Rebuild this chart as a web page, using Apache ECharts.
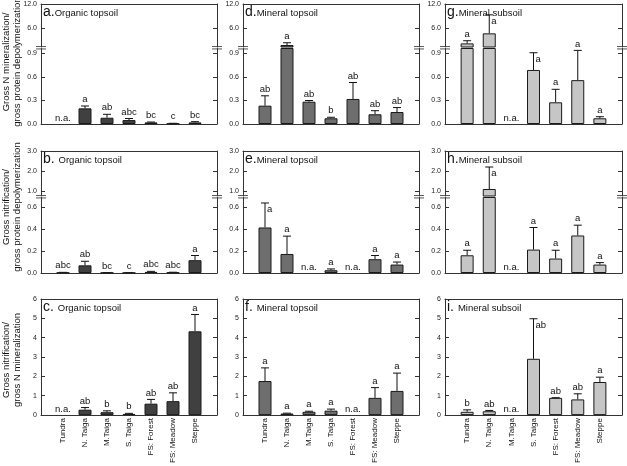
<!DOCTYPE html>
<html><head><meta charset="utf-8">
<script src="https://cdn.jsdelivr.net/npm/echarts@6/dist/echarts.min.js"></script>
<style>html,body{margin:0;padding:0;background:#fff}#c{width:627px;height:466px}</style>
</head><body><div id="c"></div>
<script>
// ---------- DATA ----------
const categories = ['Tundra', 'N. Taiga', 'M.Taiga', 'S. Taiga', 'FS: Forest', 'FS: Meadow', 'Steppe'];

// a. Organic topsoil  (gross N mineralization / gross protein depolymerization)
const aMean    = [null, 0.20, 0.08, 0.05, 0.02, 0.006, 0.02];
const aErr     = [null, 0.03, 0.044, 0.02, 0.005, 0.003, 0.01];
const aLetters = ['n.a.', 'a', 'ab', 'abc', 'bc', 'c', 'bc'];
// d. Mineral topsoil
const dMean    = [0.234, 1.79, 0.285, 0.073, 0.32, 0.124, 0.153];
const dErr     = [0.126, 0.57, 0.015, 0.013, 0.21, 0.046, 0.057];
const dLetters = ['ab', 'a', 'ab', 'b', 'ab', 'ab', 'ab'];
// g. Mineral subsoil
const gMean    = [2.2, 4.7, null, 0.69, 0.277, 0.56, 0.073];
const gErr     = [0.66, 4.6, null, 0.22, 0.166, 0.38, 0.02];
const gLetters = ['a', 'a', 'n.a.', 'a', 'a', 'a', 'a'];

// b. Organic topsoil (gross nitrification / gross protein depolymerization)
const bMean    = [0.004, 0.07, 0.003, 0.002, 0.01, 0.005, 0.117];
const bErr     = [0.002, 0.037, 0.001, 0.001, 0.005, 0.002, 0.043];
const bLetters = ['abc', 'ab', 'bc', 'c', 'abc', 'abc', 'a'];
// e. Mineral topsoil
const eMean    = [0.416, 0.174, null, 0.025, null, 0.126, 0.077];
const eErr     = [0.224, 0.163, null, 0.012, null, 0.034, 0.023];
const eLetters = ['a', 'a', 'n.a.', 'a', 'n.a.', 'a', 'a'];
// h. Mineral subsoil
const hMean    = [0.162, 1.1, null, 0.214, 0.132, 0.343, 0.077];
const hErr     = [0.046, 1.1, null, 0.202, 0.076, 0.094, 0.018];
const hLetters = ['a', 'a', 'n.a.', 'a', 'a', 'a', 'a'];

// c. Organic topsoil (gross nitrification / gross N mineralization)
const cMean    = [null, 0.28, 0.15, 0.06, 0.59, 0.72, 4.33];
const cErr     = [null, 0.11, 0.07, 0.03, 0.22, 0.43, 0.87];
const cLetters = ['n.a.', 'ab', 'b', 'b', 'ab', 'ab', 'a'];
// f. Mineral topsoil
const fMean    = [1.76, 0.08, 0.17, 0.23, null, 0.89, 1.25];
const fErr     = [0.68, 0.02, 0.03, 0.08, null, 0.53, 0.92];
const fLetters = ['a', 'a', 'a', 'a', 'n.a.', 'a', 'a'];
// i. Mineral subsoil
const iMean    = [0.17, 0.2, null, 2.91, 0.89, 0.81, 1.71];
const iErr     = [0.1, 0.04, null, 2.07, 0.01, 0.29, 0.25];
const iLetters = ['b', 'ab', 'n.a.', 'ab', 'ab', 'ab', 'a'];

const panelLetters = [['a.', 'd.', 'g.'], ['b. ', 'e.', 'h.'], ['c. ', 'f. ', 'i. ']];
const panelNames   = ['Organic topsoil', 'Mineral topsoil', 'Mineral subsoil'];
const yTitles = [
  'Gross N mineralization/\ngross protein depolymerization',
  'Gross nitrification/\ngross protein depolymerization',
  'Gross nitrification/\ngross N mineralization'
];
const row1UpperTicks = [6, 12];
const row1LowerTicks = [0, 0.3, 0.6, 0.9];
const row2UpperTicks = [1, 2, 3];
const row2LowerTicks = [0, 0.2, 0.4, 0.6];
const row3Ticks      = [0, 1, 2, 3, 4, 5, 6];

// ---------- LAYOUT ----------
const FONT = 'Liberation Sans, Arial, Helvetica, sans-serif';
const AX = '#333';
const cols = [{left: 41, width: 176}, {left: 243, width: 176}, {left: 445, width: 177}];
const barColors = ['#404040', '#6e6e6e', '#c6c6c6'];
const rowLayouts = [
  [{kind: 'upper', top: 4, height: 43, min: 1.3, max: 12, ticks: row1UpperTicks, dec: 1},
   {kind: 'lower', top: 48.5, height: 75.5, min: 0, max: 0.964, ticks: row1LowerTicks, dec: 1}],
  [{kind: 'upper', top: 151, height: 45, min: 0.75, max: 3, ticks: row2UpperTicks, dec: 1},
   {kind: 'lower', top: 197.5, height: 75.5, min: 0, max: 0.69, ticks: row2LowerTicks, dec: 1}],
  [{kind: 'single', top: 299, height: 122, min: 0, max: 6, ticks: row3Ticks, dec: 0}]
];
const yTitleCenters = [62, 207, 360];

const panels = [
  [[aMean, aErr, aLetters], [dMean, dErr, dLetters], [gMean, gErr, gLetters]],
  [[bMean, bErr, bLetters], [eMean, eErr, eLetters], [hMean, hErr, hLetters]],
  [[cMean, cErr, cLetters], [fMean, fErr, fLetters], [iMean, iErr, iLetters]]
];

const padded = [''].concat(categories, ['']);

const grids = [], xAxes = [], yAxes = [], series = [], graphics = [];

for (let r = 0; r < 3; r++) {
  const segs = rowLayouts[r];
  const lowerMax = segs[segs.length - 1].max;
  for (let c = 0; c < 3; c++) {
    const col = cols[c];
    const [mean, err, letters] = panels[r][c];
    segs.forEach(seg => {
      const gi = grids.length;
      grids.push({left: col.left, top: seg.top, width: col.width, height: seg.height, show: false});
      const xi = xAxes.length;
      xAxes.push({
        type: 'category', gridIndex: gi, data: padded, boundaryGap: false, position: 'bottom',
        axisLine: {show: seg.kind !== 'upper', onZero: false, lineStyle: {color: AX, width: 1}},
        axisTick: {show: false}, splitLine: {show: false},
        axisLabel: {show: r === 2, interval: 0, rotate: 90, fontSize: 8, margin: 3, color: '#111', fontFamily: FONT}
      });
      xAxes.push({
        type: 'category', gridIndex: gi, data: padded, boundaryGap: false, position: 'top',
        axisLine: {show: seg.kind !== 'lower', onZero: false, lineStyle: {color: AX, width: 1}},
        axisTick: {show: false}, axisLabel: {show: false}, splitLine: {show: false}
      });
      const yi = yAxes.length;
      const yBase = {
        type: 'value', gridIndex: gi, min: seg.min, max: seg.max,
        axisLine: {show: true, onZero: false, lineStyle: {color: AX, width: 1}},
        axisTick: {show: true, inside: true, length: 4, customValues: seg.ticks, lineStyle: {color: AX}},
        splitLine: {show: false}
      };
      yAxes.push(Object.assign({}, yBase, {
        position: 'left',
        axisLabel: {customValues: seg.ticks, formatter: v => Number(v).toFixed(seg.dec),
          fontSize: 7, color: '#222', margin: 4, fontFamily: FONT}
      }));
      yAxes.push(Object.assign({}, yBase, {position: 'right', axisLabel: {show: false}}));

      // bars
      series.push({
        type: 'bar', xAxisIndex: xi, yAxisIndex: yi, barWidth: 13, clip: true, silent: true,
        data: [null].concat(mean, [null]),
        itemStyle: {color: barColors[c], borderColor: '#1a1a1a', borderWidth: 1}
      });
      // error bars
      series.push({
        type: 'custom', xAxisIndex: xi, yAxisIndex: yi, clip: true, silent: true,
        data: mean.map((m, i) => [i + 1, m == null ? 0 : m, err[i] == null ? 0 : err[i]]),
        renderItem: (params, api) => {
          const i = params.dataIndex;
          if (mean[i] == null) return;
          const x = api.value(0), m = api.value(1), e = api.value(2);
          if (!(e > 0)) return;
          const p0 = api.coord([x, m]), p1 = api.coord([x, m + e]);
          return {type: 'group', children: [
            {type: 'line', shape: {x1: p0[0], y1: p0[1], x2: p1[0], y2: p1[1]}, style: {stroke: '#111', lineWidth: 1}},
            {type: 'line', shape: {x1: p1[0] - 4, y1: p1[1], x2: p1[0] + 4, y2: p1[1]}, style: {stroke: '#111', lineWidth: 1}}
          ]};
        }
      });
      // significance letters
      series.push({
        type: 'custom', xAxisIndex: xi, yAxisIndex: yi, clip: false, silent: true,
        data: mean.map((m, i) => [i + 1, m == null ? 0 : m, err[i] == null ? 0 : err[i]]),
        renderItem: (params, api) => {
          const i = params.dataIndex;
          const x = api.value(0);
          if (mean[i] == null) {
            if (seg.kind === 'upper') return;
            const p = api.coord([x, 0]);
            return {type: 'text', x: p[0], y: p[1] - 1,
              style: {text: letters[i], fontSize: 9.5, fontFamily: FONT, fill: '#111', align: 'center', verticalAlign: 'bottom'}};
          }
          const top = api.value(1) + api.value(2);
          if (seg.kind === 'upper' && top <= lowerMax) return;
          if (seg.kind === 'lower' && top > lowerMax) return;
          const p = api.coord([x, top]);
          const crowded = (p[1] - 12 < seg.top + 8) && (p[0] < col.left + 100);
          if (crowded) {
            return {type: 'text', x: p[0] + 2, y: p[1] + 1.5,
              style: {text: letters[i], fontSize: 9.5, fontFamily: FONT, fill: '#111', align: 'left', verticalAlign: 'top'}};
          }
          return {type: 'text', x: p[0], y: p[1] - 1.5,
            style: {text: letters[i], fontSize: 9.5, fontFamily: FONT, fill: '#111', align: 'center', verticalAlign: 'bottom'}};
        }
      });
    });

    // panel title
    graphics.push({
      type: 'text', x: col.left + 2, y: segs[0].top + 1, silent: true,
      style: {
        text: '{b|' + panelLetters[r][c] + '}{s|' + panelNames[c] + '}',
        verticalAlign: 'top', align: 'left',
        rich: {
          b: {fontSize: 14, fontFamily: FONT, fill: '#111', verticalAlign: 'bottom'},
          s: {fontSize: 9.5, fontFamily: FONT, fill: '#111', verticalAlign: 'bottom', padding: [0, 0, 1, 0]}
        }
      }
    });

    // axis break markers
    if (segs.length === 2) {
      const yb = (segs[0].top + segs[0].height + segs[1].top) / 2;
      [col.left, col.left + col.width].forEach(xb => {
        graphics.push({type: 'rect', silent: true, shape: {x: xb - 5, y: yb - 1, width: 10, height: 2}, style: {fill: '#fff'}});
        graphics.push({type: 'line', silent: true, shape: {x1: xb - 5, y1: yb - 1.2, x2: xb + 5, y2: yb - 1.2}, style: {stroke: '#555', lineWidth: 1}});
        graphics.push({type: 'line', silent: true, shape: {x1: xb - 5, y1: yb + 1.2, x2: xb + 5, y2: yb + 1.2}, style: {stroke: '#555', lineWidth: 1}});
      });
    }
  }
  // y-axis title
  graphics.push({
    type: 'text', x: 11.5, y: yTitleCenters[r], rotation: Math.PI / 2, silent: true,
    style: {text: yTitles[r], fontSize: 9.5, lineHeight: 11, fontFamily: FONT, fill: '#111', align: 'center', verticalAlign: 'middle'}
  });
}

const chart = echarts.init(document.getElementById('c'), null, {renderer: 'canvas'});
chart.setOption({
  animation: false,
  backgroundColor: '#fff',
  grid: grids, xAxis: xAxes, yAxis: yAxes, series: series,
  graphic: {elements: graphics}
});
</script>
</body></html>
